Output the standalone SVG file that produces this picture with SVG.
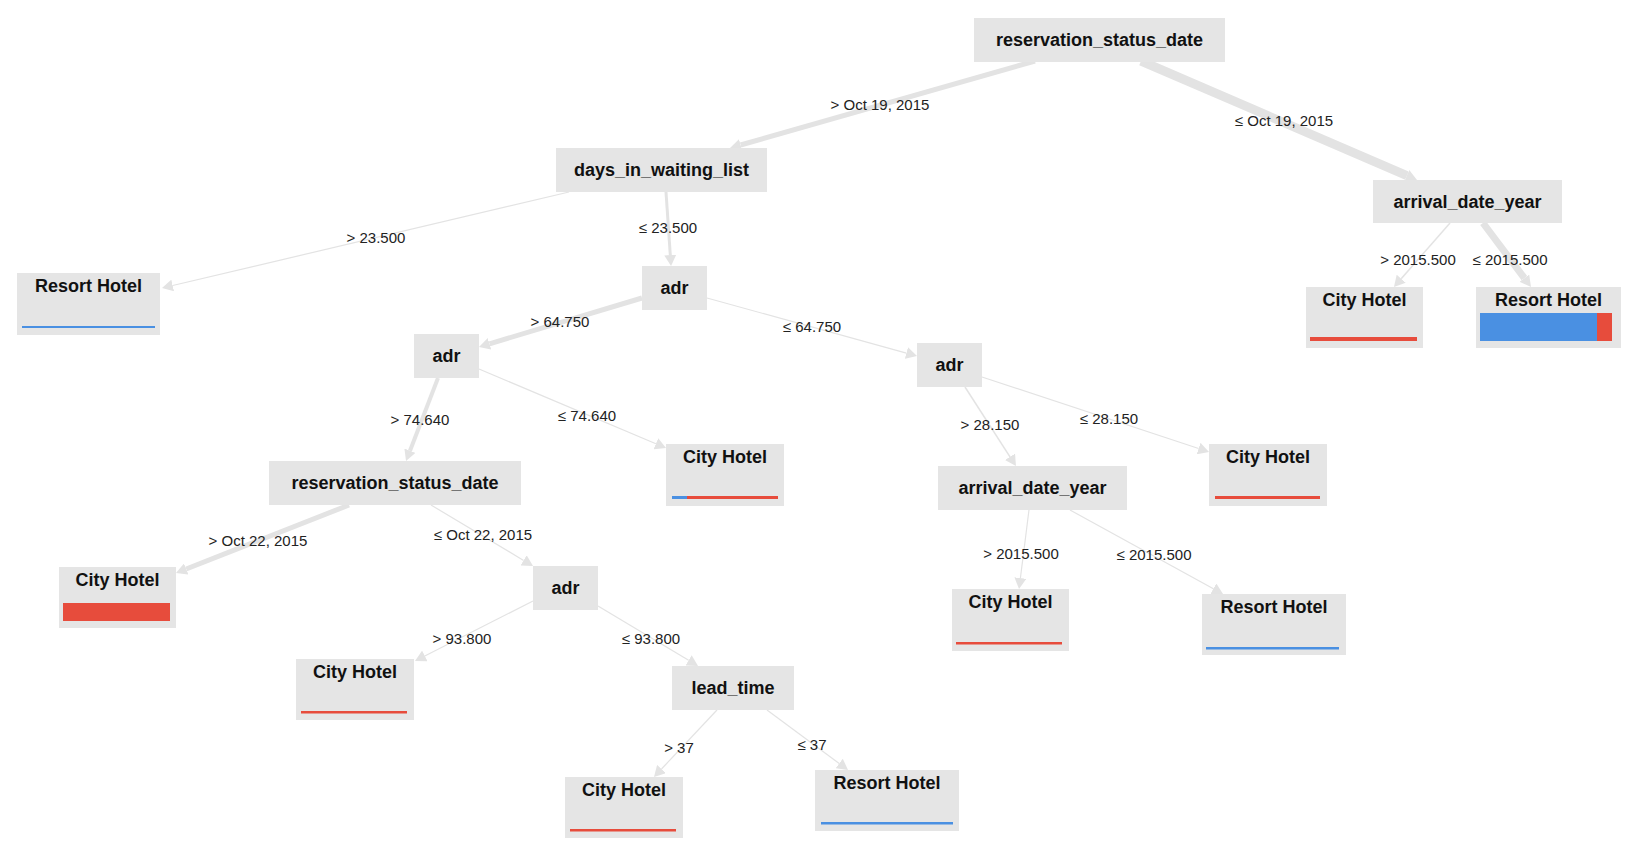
<svg xmlns="http://www.w3.org/2000/svg" width="1638" height="860" viewBox="0 0 1638 860">
<style>
.bg{fill:#ffffff}
.box{fill:#e5e5e5}
.nl{font-family:"Liberation Sans",Arial,sans-serif;font-size:18px;font-weight:bold;fill:#111;text-anchor:middle}
.el{font-family:"Liberation Sans",Arial,sans-serif;font-size:15px;fill:#222;text-anchor:middle}
.e{stroke:#e3e3e3;fill:none;stroke-linecap:butt;marker-end:url(#ah)}
.blue{fill:#4a90e2}
.red{fill:#e74c3c}
</style>
<defs>
<marker id="ah" markerUnits="userSpaceOnUse" markerWidth="11" markerHeight="12" viewBox="0 -6 11 12" refX="0" refY="0" orient="auto">
<path d="M0,-6 L11,0 L0,6 Z" fill="#e3e3e3"/>
</marker>
</defs>
<rect class="bg" x="0" y="0" width="1638" height="860"/>
<g id="connectors">
<line class="e" x1="1035" y1="61" x2="740.6" y2="145" stroke-width="5"/>
<line class="e" x1="1141" y1="61" x2="1406.9" y2="175.6" stroke-width="9"/>
<line class="e" x1="569" y1="192" x2="172.7" y2="285.5" stroke-width="1.2"/>
<line class="e" x1="666" y1="192" x2="670.3" y2="255" stroke-width="3"/>
<line class="e" x1="642" y1="298" x2="489.5" y2="343.8" stroke-width="5"/>
<line class="e" x1="707" y1="298" x2="906.4" y2="353.1" stroke-width="1.2"/>
<line class="e" x1="438" y1="378" x2="410" y2="450.7" stroke-width="4"/>
<line class="e" x1="479" y1="369" x2="655.9" y2="443.7" stroke-width="1.2"/>
<line class="e" x1="965" y1="387" x2="1010" y2="456.8" stroke-width="1.5"/>
<line class="e" x1="982" y1="377" x2="1198.6" y2="448.5" stroke-width="1.2"/>
<line class="e" x1="349" y1="505" x2="186.2" y2="569" stroke-width="5"/>
<line class="e" x1="431" y1="505" x2="523.6" y2="560.4" stroke-width="1.2"/>
<line class="e" x1="533" y1="601" x2="424.8" y2="656" stroke-width="1.2"/>
<line class="e" x1="598" y1="606" x2="688.6" y2="660.3" stroke-width="1.2"/>
<line class="e" x1="717" y1="710" x2="661.5" y2="769" stroke-width="1.2"/>
<line class="e" x1="767" y1="710" x2="839.2" y2="763.5" stroke-width="1.2"/>
<line class="e" x1="1029" y1="510" x2="1020.4" y2="578.1" stroke-width="1.2"/>
<line class="e" x1="1070" y1="510" x2="1213.4" y2="588.7" stroke-width="1.2"/>
<line class="e" x1="1450" y1="223" x2="1401.2" y2="278.7" stroke-width="1.5"/>
<line class="e" x1="1483" y1="223" x2="1524.4" y2="278.2" stroke-width="7"/>
<text class="el" x="880" y="110">&gt; Oct 19, 2015</text>
<text class="el" x="1284" y="126">≤ Oct 19, 2015</text>
<text class="el" x="376" y="243">&gt; 23.500</text>
<text class="el" x="668" y="233">≤ 23.500</text>
<text class="el" x="560" y="327">&gt; 64.750</text>
<text class="el" x="812" y="332">≤ 64.750</text>
<text class="el" x="420" y="425">&gt; 74.640</text>
<text class="el" x="587" y="421">≤ 74.640</text>
<text class="el" x="990" y="430">&gt; 28.150</text>
<text class="el" x="1109" y="424">≤ 28.150</text>
<text class="el" x="258" y="546">&gt; Oct 22, 2015</text>
<text class="el" x="483" y="540">≤ Oct 22, 2015</text>
<text class="el" x="462" y="644">&gt; 93.800</text>
<text class="el" x="651" y="644">≤ 93.800</text>
<text class="el" x="679" y="753">&gt; 37</text>
<text class="el" x="812" y="750">≤ 37</text>
<text class="el" x="1021" y="559">&gt; 2015.500</text>
<text class="el" x="1154" y="560">≤ 2015.500</text>
<text class="el" x="1418" y="265">&gt; 2015.500</text>
<text class="el" x="1510" y="265">≤ 2015.500</text>
</g>
<g id="n-root"><rect class="box" x="974" y="18" width="251" height="44"/><text class="nl" x="1099.5" y="46">reservation_status_date</text></g>
<g id="n-days"><rect class="box" x="556" y="148" width="211" height="44"/><text class="nl" x="661.5" y="176">days_in_waiting_list</text></g>
<g id="n-arrival1"><rect class="box" x="1373" y="180" width="189" height="43"/><text class="nl" x="1467.5" y="207.5">arrival_date_year</text></g>
<g id="n-leaf-resort1"><rect class="box" x="17" y="273" width="143" height="62"/><text class="nl" x="88.5" y="292">Resort Hotel</text><rect class="blue" x="22" y="326" width="133" height="2"/></g>
<g id="n-adr1"><rect class="box" x="642" y="266" width="65" height="44"/><text class="nl" x="674.5" y="294">adr</text></g>
<g id="n-leaf-city1"><rect class="box" x="1306" y="287" width="117" height="61"/><text class="nl" x="1364.5" y="306">City Hotel</text><rect class="red" x="1310" y="337" width="107" height="4"/></g>
<g id="n-leaf-resort2"><rect class="box" x="1476" y="287" width="145" height="61"/><text class="nl" x="1548.5" y="306">Resort Hotel</text><rect class="blue" x="1480" y="313" width="117" height="28"/><rect class="red" x="1597" y="313" width="15" height="28"/></g>
<g id="n-adr2"><rect class="box" x="414" y="334" width="65" height="44"/><text class="nl" x="446.5" y="362">adr</text></g>
<g id="n-adr3"><rect class="box" x="917" y="343" width="65" height="44"/><text class="nl" x="949.5" y="371">adr</text></g>
<g id="n-res2"><rect class="box" x="269" y="461" width="252" height="44"/><text class="nl" x="395" y="489">reservation_status_date</text></g>
<g id="n-leaf-city2"><rect class="box" x="666" y="444" width="118" height="62"/><text class="nl" x="725" y="463">City Hotel</text><rect class="blue" x="672" y="496" width="15" height="3"/><rect class="red" x="687" y="496" width="91" height="3"/></g>
<g id="n-arrival2"><rect class="box" x="938" y="466" width="189" height="44"/><text class="nl" x="1032.5" y="494">arrival_date_year</text></g>
<g id="n-leaf-city3"><rect class="box" x="1209" y="444" width="118" height="62"/><text class="nl" x="1268" y="463">City Hotel</text><rect class="red" x="1215" y="496" width="105" height="3"/></g>
<g id="n-leaf-city4"><rect class="box" x="59" y="567" width="117" height="61"/><text class="nl" x="117.5" y="586">City Hotel</text><rect class="red" x="63" y="603" width="107" height="18"/></g>
<g id="n-adr4"><rect class="box" x="533" y="566" width="65" height="44"/><text class="nl" x="565.5" y="594">adr</text></g>
<g id="n-leaf-city5"><rect class="box" x="952" y="589" width="117" height="62"/><text class="nl" x="1010.5" y="608">City Hotel</text><rect class="red" x="956" y="642" width="106" height="2.5"/></g>
<g id="n-leaf-resort3"><rect class="box" x="1202" y="594" width="144" height="61"/><text class="nl" x="1274" y="613">Resort Hotel</text><rect class="blue" x="1206" y="647" width="133" height="2.5"/></g>
<g id="n-leaf-city6"><rect class="box" x="296" y="659" width="118" height="61"/><text class="nl" x="355" y="678">City Hotel</text><rect class="red" x="301" y="711" width="106" height="2.5"/></g>
<g id="n-lead"><rect class="box" x="672" y="666" width="122" height="44"/><text class="nl" x="733" y="694">lead_time</text></g>
<g id="n-leaf-city7"><rect class="box" x="565" y="777" width="118" height="61"/><text class="nl" x="624" y="796">City Hotel</text><rect class="red" x="570" y="829" width="106" height="2.5"/></g>
<g id="n-leaf-resort4"><rect class="box" x="815" y="770" width="144" height="61"/><text class="nl" x="887" y="789">Resort Hotel</text><rect class="blue" x="821" y="822" width="132" height="2.5"/></g>
</svg>
